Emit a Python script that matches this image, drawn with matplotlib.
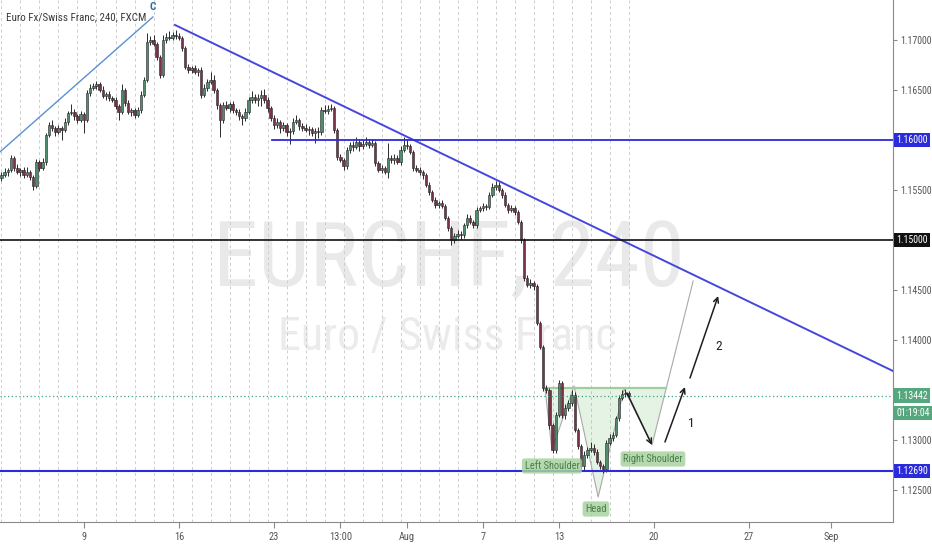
import numpy as np
import matplotlib
matplotlib.use('Agg')
from matplotlib import pyplot, font_manager
from matplotlib.transforms import blended_transform_factory

# EURCHF 4h candles (open of each bar = previous close)
first_open = 1.1562
closes = [
    1.1565, 1.1568, 1.1570, 1.1582, 1.1572, 1.1568, 1.1570, 1.1565, 1.1568, 1.1563,
    1.1554, 1.1578, 1.1572, 1.1578, 1.1605, 1.1615, 1.1612, 1.1608, 1.1612, 1.1610,
    1.1618, 1.1627, 1.1628, 1.1624, 1.1620, 1.1626, 1.1620, 1.1647, 1.1652, 1.1654,
    1.1656, 1.1650, 1.1644, 1.1646, 1.1642, 1.1640, 1.1634, 1.1628, 1.1650, 1.1637,
    1.1628, 1.1630, 1.1625, 1.1630, 1.1645, 1.1660, 1.1698, 1.1700, 1.1696, 1.1683,
    1.1665, 1.1700, 1.1703, 1.1702, 1.1705, 1.1704, 1.1702, 1.1692, 1.1673, 1.1670,
    1.1672, 1.1668, 1.1670, 1.1645, 1.1652, 1.1658, 1.1660, 1.1650, 1.1635, 1.1620,
    1.1635, 1.1632, 1.1636, 1.1630, 1.1628, 1.1624, 1.1622, 1.1628, 1.1640, 1.1643,
    1.1640, 1.1642, 1.1645, 1.1640, 1.1632, 1.1622, 1.1615, 1.1618, 1.1612, 1.1615,
    1.1608, 1.1609, 1.1618, 1.1620, 1.1614, 1.1612, 1.1610, 1.1611, 1.1607, 1.1609,
    1.1608, 1.1630, 1.1629, 1.1631, 1.1632, 1.1610, 1.1583, 1.1580, 1.1574, 1.1590,
    1.1595, 1.1593, 1.1598, 1.1594, 1.1596, 1.1598, 1.1595, 1.1597, 1.1577, 1.1570,
    1.1572, 1.1568, 1.1582, 1.1580, 1.1582, 1.1578, 1.1590, 1.1595, 1.1594, 1.1588,
    1.1572, 1.1570, 1.1568, 1.1565, 1.1555, 1.1548, 1.1540, 1.1535, 1.1537, 1.1534,
    1.1522, 1.1512, 1.1500, 1.1504, 1.1506, 1.1505, 1.1515, 1.1522, 1.1518, 1.1515,
    1.1530, 1.1532, 1.1534, 1.1533, 1.1545, 1.1553, 1.1555, 1.1550, 1.1545, 1.1535,
    1.1530, 1.1532, 1.1528, 1.1518, 1.1500, 1.1462, 1.1455, 1.1457, 1.1454, 1.1417,
    1.1393, 1.1352, 1.1350, 1.1315, 1.1290, 1.1325, 1.1357, 1.1325, 1.1332, 1.1337,
    1.1345, 1.1310, 1.1294, 1.1274, 1.1285, 1.1290, 1.1292, 1.1288, 1.1278, 1.1274,
    1.1271, 1.1297, 1.1302, 1.1305, 1.1322, 1.1342, 1.1346, 1.1347, 1.13442,
]
# wick lengths above / below the body, in pips
wick_up = [
    3, 4, 2, 3, 2, 4, 2, 3, 5, 2,
    2, 3, 2, 4, 2, 3, 5, 2, 3, 2,
    4, 2, 8, 3, 2, 3, 2, 3, 4, 3,
    3, 2, 4, 2, 3, 2, 3, 2, 6, 2,
    3, 2, 2, 3, 4, 3, 9, 4, 5, 2,
    2, 5, 4, 6, 3, 5, 3, 2, 2, 3,
    2, 3, 2, 3, 4, 3, 8, 5, 2, 2,
    3, 4, 2, 3, 2, 3, 2, 4, 3, 6,
    3, 4, 5, 6, 3, 2, 3, 4, 2, 3,
    2, 3, 4, 5, 2, 3, 4, 3, 2, 3,
    4, 3, 5, 4, 4, 2, 2, 3, 2, 3,
    3, 4, 5, 3, 4, 5, 3, 4, 2, 2,
    3, 2, 15, 3, 4, 3, 4, 8, 6, 2,
    2, 3, 3, 2, 2, 3, 2, 3, 2, 3,
    2, 2, 2, 3, 4, 3, 2, 4, 3, 2,
    3, 2, 3, 2, 3, 4, 4, 3, 2, 3,
    2, 3, 2, 2, 2, 2, 3, 4, 2, 2,
    2, 2, 3, 2, 2, 3, 3, 2, 4, 3,
    5, 3, 2, 2, 4, 3, 6, 4, 3, 2,
    2, 3, 4, 3, 2, 3, 4, 4, 2,
]
wick_dn = [
    3, 2, 4, 2, 3, 2, 4, 3, 2, 3,
    4, 2, 3, 2, 3, 2, 3, 4, 2, 10,
    2, 3, 2, 4, 3, 2, 13, 2, 3, 2,
    3, 2, 2, 4, 3, 2, 3, 8, 2, 3,
    2, 4, 3, 2, 3, 2, 2, 3, 2, 3,
    3, 2, 3, 2, 2, 3, 2, 3, 2, 3,
    3, 2, 4, 3, 2, 3, 2, 3, 4, 17,
    3, 2, 4, 3, 3, 4, 7, 3, 2, 3,
    3, 6, 8, 3, 4, 3, 4, 3, 5, 3,
    4, 12, 3, 2, 4, 3, 2, 5, 3, 10,
    6, 3, 2, 3, 2, 3, 3, 2, 4, 3,
    3, 4, 2, 5, 3, 2, 3, 2, 3, 2,
    3, 2, 6, 3, 4, 2, 3, 2, 3, 2,
    3, 2, 3, 4, 2, 3, 2, 3, 3, 2,
    2, 3, 5, 3, 2, 4, 3, 3, 2, 3,
    3, 2, 3, 3, 2, 2, 3, 2, 3, 2,
    3, 2, 3, 2, 3, 3, 2, 3, 4, 2,
    2, 3, 3, 4, 3, 3, 2, 3, 4, 3,
    3, 2, 3, 3, 4, 3, 2, 3, 2, 3,
    4, 3, 2, 3, 2, 3, 2, 3, 2,
]
PIP = 0.0001

x_ticks = [26, 56, 86, 107, 128, 152, 176, 206, 236, 262]
x_labels = ['9', '16', '23', '13:00', 'Aug', '7', '13', '20', '27', 'Sep']
y_ticks = [1.125, 1.130, 1.140, 1.145, 1.155, 1.165, 1.170]

# drawings on the chart
up_trend = [(-0.5, 1.1588), (47.8, 1.1723)]
down_trend = [(54.8, 1.1715), (281.5, 1.1369)]
level_1160 = 1.1600
level_1160_start = 85.4
level_1150 = 1.1500
level_1269 = 1.1269
last_price = 1.13442
countdown = '01:19:04'
hs_x = [171.6, 173.8, 180.8, 188.4, 196.6, 205.4]
hs_y = [1.1352, 1.1290, 1.1354, 1.1243, 1.1351, 1.1295]
neckline = 1.1352
hs_target = (218.4, 1.1459)
arrows = [((197.5, 1.1347), (205.4, 1.1295)),
          ((209.5, 1.1298), (215.8, 1.1353)),
          ((217.4, 1.1362), (226.3, 1.1444))]
wave_labels = [('1', 217.7, 1.1317), ('2', 226.6, 1.1394)]
hs_labels = [('Left Shoulder', 173.8, 1.1274), ('Head', 187.7, 1.1231),
             ('Right Shoulder', 205.7, 1.1281)]

# the screenshot uses a narrow face; take one if the machine has it
fonts = font_manager.fontManager.ttflist
avail = {f.name for f in fonts}
FONT, STRETCH, NARROW = 'Liberation Sans', 'normal', False
for nm in ['Liberation Sans Narrow', 'Roboto Condensed', 'Open Sans Condensed',
           'Noto Sans Condensed', 'DejaVu Sans Condensed']:
    if nm in avail:
        FONT, NARROW = nm, True
        break
else:
    for fam in ['DejaVu Sans', 'Noto Sans', 'Roboto', 'Open Sans']:
        if any(f.name == fam and 'condensed' in str(f.stretch) for f in fonts):
            FONT, STRETCH, NARROW = fam, 'condensed', True
            break
pyplot.rcParams['font.family'] = [FONT, 'DejaVu Sans']
pyplot.rcParams['font.stretch'] = STRETCH
SMALL = 7.1 if NARROW else 6.6

GREEN = '#4f8d6d'
RED = '#7b3147'
BLUE = '#2b2bdc'
LABEL_GREEN = '#55a77d'

fig = pyplot.figure(figsize=(9.32, 5.5), dpi=100)
fig.patch.set_facecolor('white')
ax = fig.add_axes([0, 28 / 550, 893 / 932, 522 / 550])
ax.set_xlim(-0.47, 281.5)
ax.set_ylim(1.1218, 1.1740)

# watermark
wm1 = ax.text(449 / 893, 0.454, 'EURCHF, 240', transform=ax.transAxes, ha='center',
              va='baseline', color='#e9e9e9', fontsize=50, zorder=0)
wm2 = ax.text(447 / 893, 0.3295, 'Euro / Swiss Franc', transform=ax.transAxes,
              ha='center', va='baseline', color='#ebebeb', fontsize=28, zorder=0)
title = ax.text(6 / 893, 1 - 17 / 522, 'Euro Fx/Swiss Franc, 240, FXCM',
                transform=ax.transAxes, ha='left', va='center', color='#3a3a3a',
                fontsize=8, zorder=6)

# day grid
n = len(closes)
ax.vlines(np.arange(0, n, 6), 0, 1, transform=ax.get_xaxis_transform(),
          colors='#cdcdcd', linewidth=0.7, linestyles=(0, (3, 3)), zorder=0.5)

# candles
closes = np.array(closes)
opens = np.r_[first_open, closes[:-1]]
highs = np.maximum(opens, closes) + np.array(wick_up) * PIP
lows = np.minimum(opens, closes) - np.array(wick_dn) * PIP
idx = np.arange(n)
up = closes >= opens
ax.vlines(idx, lows, highs, colors='#2a2a2a', linewidth=0.7, zorder=2.9)
ax.bar(idx, np.maximum(np.abs(closes - opens), 0.00006), bottom=np.minimum(opens, closes),
       width=0.75, color=np.where(up, GREEN, RED), edgecolor='#262626', linewidth=0.4,
       zorder=3)

# head and shoulders
ratio = (neckline - hs_y[-1]) / (hs_target[1] - hs_y[-1])
neck_end = hs_x[-1] + ratio * (hs_target[0] - hs_x[-1])
poly_x = hs_x + [neck_end]
poly_y = hs_y + [neckline]
ax.fill(poly_x, poly_y, color='#6cbf6c', alpha=0.18, linewidth=0, zorder=1.5)
ax.plot(hs_x + [hs_target[0]], hs_y + [hs_target[1]], color='#a9a9a9', lw=0.8, zorder=2)
ax.plot([hs_x[0], neck_end], [neckline, neckline], color='#a2cc9f', lw=1.6, zorder=2.5)
for txt, bx, by in hs_labels:
    ax.text(bx, by, txt, ha='center', va='center', fontsize=SMALL + 0.4, color='#4a7d4a',
            zorder=6, bbox=dict(boxstyle='round,pad=0.25', fc='#a8d3a0', ec='none', alpha=0.85))

for start, end in arrows:
    ax.annotate('', xy=end, xytext=start, zorder=5,
                arrowprops=dict(arrowstyle='->', color='#1e1e1e', lw=1.1,
                                shrinkA=0, shrinkB=0, mutation_scale=9))
for txt, bx, by in wave_labels:
    ax.text(bx, by, txt, ha='center', va='center', fontsize=SMALL + 2.6, color='#222')

# trend lines and levels
ax.plot(*zip(*up_trend), color='#5b8fd2', lw=1.0, zorder=4)
ax.text(up_trend[1][0], 1.1733, 'C', ha='center', va='center', color='#2b6da3',
        fontsize=SMALL + 1, fontweight='bold')
ax.plot(*zip(*down_trend), color='#4646de', lw=1.4, zorder=4)
ax.plot([level_1160_start, 281.5], [level_1160, level_1160], color=BLUE, lw=1.3, zorder=4)
ax.axhline(level_1150, color='#111111', lw=1.2, zorder=4)
ax.axhline(level_1269, color=BLUE, lw=1.5, zorder=4)
ax.axhline(last_price, color='#3da47a', lw=0.9, linestyle=(0, (1, 2)), zorder=4)

# axes styling
for side in ['left', 'top']:
    ax.spines[side].set_visible(False)
for side in ['right', 'bottom']:
    ax.spines[side].set_color('#8a8a8a')
ax.yaxis.tick_right()
ax.set_yticks(y_ticks)
ax.set_yticklabels(['%.5f' % v for v in y_ticks])
ax.set_xticks(x_ticks)
ax.set_xticklabels(x_labels)
ax.tick_params(axis='y', length=3, pad=2, colors='#8a8a8a', labelcolor='#555555',
               labelsize=SMALL)
ax.tick_params(axis='x', length=4, pad=3, colors='#8a8a8a', labelcolor='#555555',
               labelsize=SMALL + 0.4)

tr = blended_transform_factory(ax.transAxes, ax.transData)
badges = [('1.16000', level_1160, BLUE), ('1.15000', level_1150, '#111111'),
          ('%.5f' % last_price, last_price, LABEL_GREEN), (countdown, 1.1327, LABEL_GREEN),
          ('1.12690', level_1269, BLUE)]
for txt, yv, col in badges:
    ax.text(1.0035, yv, txt, transform=tr, ha='left', va='center', color='white',
            fontsize=SMALL, clip_on=False,
            bbox=dict(boxstyle='square,pad=0.25', fc=col, ec='none'))

# size the watermark and title to their width on the screenshot
fig.canvas.draw()
renderer = fig.canvas.get_renderer()
for t, w in [(wm1, 472), (wm2, 339), (title, 141)]:
    cur = t.get_window_extent(renderer).width
    t.set_fontsize(t.get_fontsize() * w / cur)

fig.savefig('out.png', dpi=100, facecolor='white')
